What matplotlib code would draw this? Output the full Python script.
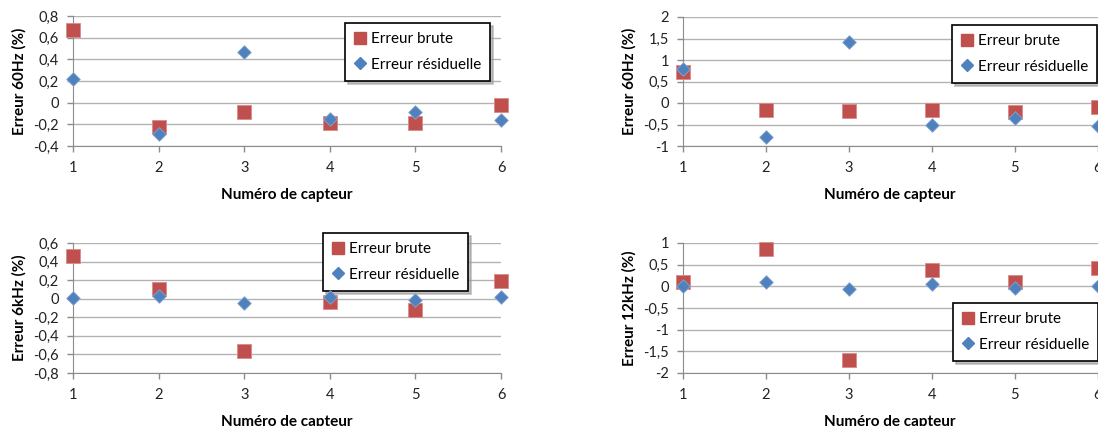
import matplotlib
matplotlib.use("Agg")
import matplotlib.pyplot as plt
from matplotlib.lines import Line2D
from matplotlib.ticker import FuncFormatter, MultipleLocator

plt.rcParams['font.family'] = ['Lato', 'DejaVu Sans']

capteurs = [1, 2, 3, 4, 5, 6]

# 60Hz (left)
brute_60a = [0.67, -0.22, -0.09, -0.19, -0.19, -0.025]
resid_60a = [0.215, -0.29, 0.47, -0.15, -0.09, -0.16]
# 60Hz (right)
brute_60b = [0.73, -0.16, -0.19, -0.16, -0.22, -0.085]
resid_60b = [0.78, -0.78, 1.42, -0.52, -0.36, -0.53]
# 6kHz
brute_6k = [0.455, 0.10, -0.56, -0.036, -0.12, 0.195]
resid_6k = [0.01, 0.03, -0.043, 0.014, -0.014, 0.02]
# 12kHz
brute_12k = [0.10, 0.85, -1.71, 0.37, 0.11, 0.42]
resid_12k = [0.015, 0.10, -0.05, 0.06, -0.04, 0.015]

RED = "#C0504D"
BLUE = "#4F81BD"
GRID = "#b3b3b3"
AXC = "#8c8c8c"

W, H = 1098, 426
fig = plt.figure(figsize=(W / 100, H / 100), dpi=100)


def px_rect(l, r, t, b):
    return [l / W, 1 - b / H, (r - l) / W, (b - t) / H]


def comma(v, pos):
    s = f"{v:g}"
    return s.replace(".", ",")


def panel(rect, brute, resid, ylim, step, ylabel, leg_xy):
    ax = fig.add_axes(px_rect(*rect))
    ax.set_xlim(1, 6)
    ax.set_ylim(*ylim)
    ax.yaxis.set_major_locator(MultipleLocator(step))
    ax.yaxis.set_major_formatter(FuncFormatter(comma))
    ax.set_xticks(capteurs)
    ax.grid(axis="y", color=GRID, linewidth=1.0)
    ax.set_axisbelow(True)
    for s in ("top", "right"):
        ax.spines[s].set_visible(False)
    ax.spines["left"].set_color(AXC)
    ax.spines["bottom"].set_color(AXC)
    ax.tick_params(axis="both", colors=AXC, length=4, width=1.0,
                   labelcolor="#222222", labelsize=10.5)
    ax.tick_params(axis="y", pad=6)
    ax.tick_params(axis="x", pad=7)
    ax.scatter(capteurs, brute, marker="s", s=90, color=RED,
               edgecolors="#d88b89", linewidths=0.6, zorder=3, clip_on=False)
    ax.scatter(capteurs, resid, marker="D", s=48, color=BLUE,
               edgecolors="#86a6d2", linewidths=0.6, zorder=4, clip_on=False)
    ax.set_xlabel("Numéro de capteur", fontsize=11, fontweight="bold",
                  labelpad=9)
    ax.set_ylabel(ylabel, fontsize=11, fontweight="bold", labelpad=5)
    handles = [
        Line2D([], [], marker="s", ls="none", color=RED, markersize=9),
        Line2D([], [], marker="D", ls="none", color=BLUE, markersize=6.5),
    ]
    lx, ly = leg_xy
    leg = ax.legend(handles, ["Erreur brute", "Erreur résiduelle"],
                    loc="upper left", bbox_to_anchor=(lx / W, 1 - ly / H),
                    bbox_transform=fig.transFigure, borderaxespad=0,
                    fontsize=11, frameon=True, fancybox=False,
                    shadow={"color": "#9a9a9a", "alpha": 0.6},
                    edgecolor="black", framealpha=1, handlelength=0.8,
                    handletextpad=0.3, labelspacing=0.75, borderpad=0.6)
    leg.get_frame().set_linewidth(1.2)
    leg.set_zorder(2)
    return ax


panel((73, 501, 16, 146), brute_60a, resid_60a, (-0.4, 0.8), 0.2,
      "Erreur 60Hz (%)", (345, 23))
panel((683, 1097.5, 17, 146), brute_60b, resid_60b, (-1, 2), 0.5,
      "Erreur 60Hz (%)", (952, 25))
panel((73, 501, 243, 373), brute_6k, resid_6k, (-0.8, 0.6), 0.2,
      "Erreur 6kHz (%)", (323, 233))
panel((683, 1097.5, 243, 373), brute_12k, resid_12k, (-2, 1), 0.5,
      "Erreur 12kHz (%)", (953, 303))

fig.savefig("out.png", dpi=100)
